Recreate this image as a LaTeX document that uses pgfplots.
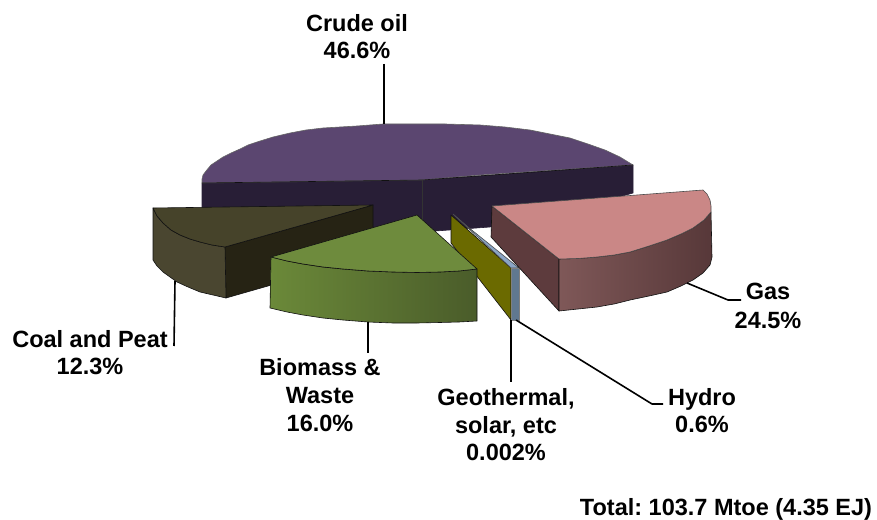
\documentclass[border=0pt]{standalone}
\usepackage{pgfplots}
\pgfplotsset{compat=1.18}
\usepackage{fontspec}
\setmainfont{Liberation Sans}
\frenchspacing
\definecolor{pTop}{HTML}{5B4670}
\definecolor{pSide}{HTML}{281E36}
\definecolor{cTop}{HTML}{46432A}
\definecolor{cSide}{HTML}{4A4630}
\definecolor{cIn}{HTML}{262314}
\definecolor{gTop}{HTML}{6E8B3D}
\definecolor{gL}{HTML}{6B8939}
\definecolor{gR}{HTML}{4A5C2A}
\definecolor{oTop}{HTML}{6B6A00}
\definecolor{hTop}{HTML}{8AA5C5}
\definecolor{hSide}{HTML}{607890}
\definecolor{rTop}{HTML}{CA8786}
\definecolor{rIn}{HTML}{5D3B3D}
\definecolor{rL}{HTML}{7F5858}
\definecolor{rR}{HTML}{573839}
\definecolor{edge}{HTML}{111111}
\begin{document}
\begin{tikzpicture}
\begin{axis}[
  scale only axis, width=877pt, height=519pt,
  xmin=0, xmax=877, ymin=0, ymax=519, y dir=reverse,
  hide axis, clip=false,
  every axis plot/.append style={line join=round, line width=0.6pt, draw=edge, mark=none},
]
\path (axis cs:0,0) rectangle (axis cs:877,519);
% crude oil
\addplot[fill=pSide, draw=pSide] coordinates {(202,183)(202,208)(300,220)(422,232)(490,227)(560,214)(633,193)(633,165)(422,180)} --cycle;
\addplot[fill=pTop, draw=black!60] coordinates {(202,183)(202,179)(203,175)(206,171)(211,165)(217,161)(223,157)(231,153)(240,149)(248,145)(257,142)(273,137)(290,133)(306,130)(323,128)(340,127)(357,126)(370,125)(383,124)(407,124)(445,124)(480,125)(505,127)(530,130)(550,134)(570,138)(588,144)(605,150)(620,157)(633,165)(480,175)(422,180)} --cycle;
\addplot[draw=edge] coordinates {(202,183)(422,180)(633,165)};
\addplot[draw=black!80, line width=0.4pt] coordinates {(422,180)(422,231)};
% coal
\addplot[fill=cIn] coordinates {(225,247)(373,205)(373,256)(226,298)} --cycle;
\addplot[fill=cSide] coordinates {(153,208)(157,216)(163,223)(171,230)(180,235)(190,239)(200,242)(212,245)(225,247)(226,298)(213,295)(200,292)(188,287)(177,282)(170,277)(163,272)(157,266)(153,260)} --cycle;
\addplot[fill=cTop] coordinates {(153,208)(373,205)(225,247)(212,245)(200,242)(190,239)(180,235)(171,230)(163,223)(157,216)} --cycle;
% geothermal
\addplot[fill=oTop] coordinates {(451,215)(511,268)(511,320)(451,243)} --cycle;
% hydro
\addplot[fill=hTop, draw=black!70] coordinates {(453,214)(511,268)(519,268)(468,227)} --cycle;
\addplot[fill=hSide, draw=black!50] coordinates {(511,268)(519,268)(519,320)(511,320)} --cycle;
% biomass
\addplot[left color=gL, right color=gR, draw=edge] coordinates {(271,257)(287,261)(303,264)(323,267)(343,269)(368,271)(393,272)(417,272.5)(440,272)(459,271)(477,269)(477,321)(459,322)(440,322.5)(417,323)(393,323)(368,322)(343,320)(323,318)(303,315)(287,312)(270,308)} --cycle;
\addplot[fill=gTop] coordinates {(417,215)(477,269)(459,271)(440,272)(417,272.5)(393,272)(368,271)(343,269)(323,267)(303,264)(287,261)(271,257)} --cycle;
% gas
\addplot[fill=rIn] coordinates {(492,206)(559,259)(559,311)(491,237)} --cycle;
\addplot[left color=rL, right color=rR, draw=edge] coordinates {(559,259)(578,258.5)(597,257)(614,255)(630,252)(649,246)(667,240)(681,234)(693,228)(704,220)(711,212)(712,257)(710,265)(703,273)(693,280)(681,286)(667,292)(649,296)(630,300)(614,304)(597,307)(578,309)(559,311)} --cycle;
\addplot[fill=rTop, draw=black!70] coordinates {(492,206)(703,190)(707,194)(710,200)(711,206)(711,212)(704,220)(693,228)(681,234)(667,240)(649,246)(630,252)(614,255)(597,257)(578,258.5)(559,259)} --cycle;
% leader lines
\addplot[black, line width=1.6pt] coordinates {(384,64)(384,124)};
\addplot[black, line width=1.6pt] coordinates {(687,283)(728,300)(741,300)};
\addplot[black, line width=1.6pt] coordinates {(175,281)(174,346)};
\addplot[black, line width=1.6pt] coordinates {(368,322)(368,353)};
\addplot[black, line width=1.6pt] coordinates {(511,320)(511,382)};
\addplot[black, line width=1.6pt] coordinates {(516,320)(652,404)(663,404)};
% labels
\tikzset{lab/.style={font=\fontsize{23.5}{27.5}\selectfont\bfseries, inner sep=0pt, anchor=base}}
\node[lab] at (axis cs:357,32) {Crude oil};
\node[lab] at (axis cs:357,59) {46.6\%};
\node[lab] at (axis cs:768,299) {Gas};
\node[lab] at (axis cs:768,328) {24.5\%};
\node[lab] at (axis cs:90,347) {Coal and Peat};
\node[lab] at (axis cs:90,374) {12.3\%};
\node[lab] at (axis cs:320,375) {Biomass \&};
\node[lab] at (axis cs:320,403) {Waste};
\node[lab] at (axis cs:320,431) {16.0\%};
\node[lab] at (axis cs:506,405) {Geothermal,};
\node[lab] at (axis cs:506,433) {solar, etc};
\node[lab] at (axis cs:506,460) {0.002\%};
\node[lab] at (axis cs:702,405) {Hydro};
\node[lab] at (axis cs:702,432) {0.6\%};
\node[lab] at (axis cs:726,515) {Total: 103.7 Mtoe (4.35 EJ)};
\end{axis}
\end{tikzpicture}
\end{document}
